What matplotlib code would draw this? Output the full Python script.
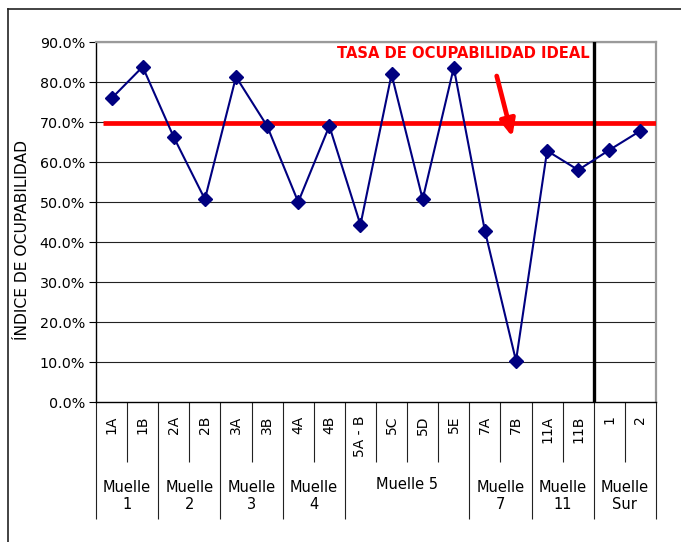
import numpy as np
import matplotlib.pyplot as plt
from matplotlib.lines import Line2D
from matplotlib.transforms import blended_transform_factory

# categories along the x axis and their occupancy index (%)
berths = ["1A", "1B", "2A", "2B", "3A", "3B", "4A", "4B", "5A - B",
          "5C", "5D", "5E", "7A", "7B", "11A", "11B", "1", "2"]
occupancy = [75.9, 83.8, 66.2, 50.7, 81.3, 69.0, 50.0, 69.0, 44.3,
             81.9, 50.7, 83.6, 42.8, 10.3, 62.8, 58.0, 63.0, 67.8]

# groups (label, number of berths)
groups = [("Muelle\n1", 2), ("Muelle\n2", 2), ("Muelle\n3", 2), ("Muelle\n4", 2),
          ("Muelle 5", 4), ("Muelle\n7", 2), ("Muelle\n11", 2), ("Muelle\nSur", 2)]

ideal_rate = 69.7
y_ticks = [0, 10, 20, 30, 40, 50, 60, 70, 80, 90]

fig = plt.figure(figsize=(6.81, 5.42), dpi=100)
ax = fig.add_axes([96 / 681, 1 - 402 / 542, 560 / 681, 360 / 542])

x = np.arange(len(berths))
n = len(berths)

# grid lines
for t in y_ticks[1:]:
    ax.axhline(t, color="#222222", lw=0.8, zorder=1)

# ideal occupancy line
ax.plot([-0.27, n - 0.5], [ideal_rate, ideal_rate], color="#ff0000", lw=3.4, zorder=3,
        solid_capstyle="butt")

# separation between Muelle 11 and Muelle Sur
ax.axvline(15.5, color="black", lw=2.4, zorder=4)

# occupancy series
ax.plot(x, occupancy, color="#000080", lw=1.5, marker="D", markersize=7, zorder=5)

# annotation
ax.text(7.25, 87.1, "TASA DE OCUPABILIDAD IDEAL", color="#ff0000", fontsize=10.6,
        fontweight="bold", ha="left", va="center", zorder=6)
ax.annotate("", xy=(12.88, 66.3), xytext=(12.38, 81.5),
            arrowprops=dict(arrowstyle="-|>,head_length=1.0,head_width=0.45",
                            color="#ff0000", lw=3.4, shrinkA=0, shrinkB=0), zorder=6)

ax.set_xlim(-0.5, n - 0.5)
ax.set_ylim(0, 90)
ax.set_yticks(y_ticks)
ax.set_yticklabels([f"{t:.1f}%" for t in y_ticks], fontsize=10.3)
ax.tick_params(axis="y", direction="out", length=5, width=0.8, color="black", pad=3)

ax.set_ylabel("ÍNDICE DE OCUPABILIDAD", fontsize=11.2)
ax.yaxis.set_label_coords(-0.118, 0.45)

# x axis: separators as ticks
bounds = np.arange(n + 1) - 0.5
group_bounds = [-0.5]
for _, k in groups:
    group_bounds.append(group_bounds[-1] + k)
ax.set_xticks(group_bounds)
ax.set_xticklabels([])
ax.set_xticks(bounds, minor=True)
ax.tick_params(axis="x", which="major", direction="out", length=84, width=0.8, color="#222222")
ax.tick_params(axis="x", which="minor", direction="out", length=43, width=0.8, color="#222222")

trans = blended_transform_factory(ax.transData, ax.transAxes)
for xi, lab in zip(x, berths):
    ax.text(xi, -0.037, lab, rotation=90, ha="center", va="top", fontsize=10,
            transform=trans)
for (lab, k), left in zip(groups, group_bounds[:-1]):
    yy = -0.23 if "\n" not in lab else -0.262
    ax.text(left + k / 2, yy, lab, ha="center", va="center", fontsize=10.5,
            multialignment="center", linespacing=1.15, transform=trans)

for side in ["top", "right"]:
    ax.spines[side].set_color("#9a9a9a")
    ax.spines[side].set_linewidth(1.6)
for side in ["left", "bottom"]:
    ax.spines[side].set_color("black")
    ax.spines[side].set_linewidth(1.0)

# outer chart border (only left and top visible)
bx, by = 8 / 681, 1 - 9 / 542
fig.add_artist(Line2D([bx, bx], [0, by], transform=fig.transFigure, color="#222222", lw=1.2))
fig.add_artist(Line2D([bx, 1], [by, by], transform=fig.transFigure, color="#222222", lw=1.2))

fig.savefig("out.png", dpi=100)
